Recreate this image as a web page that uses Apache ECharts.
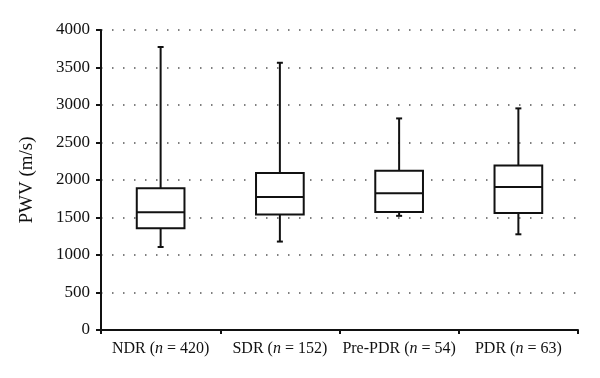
<!DOCTYPE html>
<html><head><meta charset="utf-8">
<script src="https://cdn.jsdelivr.net/npm/echarts@6/dist/echarts.min.js"></script>
<style>html,body{margin:0;padding:0;background:#fff}#c{width:600px;height:378px}</style>
</head><body><div id="c"></div>
<script>
var groups = ['NDR', 'SDR', 'Pre-PDR', 'PDR'];
var counts = [420, 152, 54, 63];
var whiskerLow  = [1107, 1179, 1522, 1276];
var q1          = [1356, 1539, 1574, 1561];
var median      = [1570, 1775, 1824, 1908];
var q3          = [1890, 2095, 2122, 2193];
var whiskerHigh = [3773, 3563, 2821, 2955];
var yTicks = [0, 500, 1000, 1500, 2000, 2500, 3000, 3500, 4000];

var data = groups.map(function (g, i) {
  return [i, whiskerLow[i], q1[i], median[i], q3[i], whiskerHigh[i]];
});
var serif = '"Liberation Serif", "DejaVu Serif", serif';

var chart = echarts.init(document.getElementById('c'), null, {renderer: 'canvas'});
chart.setOption({
  animation: false,
  backgroundColor: '#fff',
  grid: {left: 101, right: 22, top: 30, bottom: 48},
  xAxis: {
    type: 'category',
    data: groups,
    boundaryGap: true,
    axisLine: {lineStyle: {color: '#111', width: 2}},
    axisTick: {show: true, length: 4, interval: 0, lineStyle: {color: '#111', width: 2}},
    axisLabel: {
      interval: 0, margin: 11, color: '#111',
      fontFamily: serif, fontSize: 16,
      formatter: function (v, i) {
        return '{a|' + v + ' (}{i|n}{a| = ' + counts[i] + ')}';
      },
      rich: {
        a: {fontFamily: serif, fontSize: 16, color: '#111'},
        i: {fontFamily: serif, fontSize: 16, fontStyle: 'italic', color: '#111'}
      }
    },
    splitLine: {show: false}
  },
  yAxis: {
    type: 'value',
    min: yTicks[0], max: yTicks[yTicks.length - 1], interval: 500,
    name: 'PWV (m/s)',
    nameLocation: 'middle',
    nameGap: 64,
    nameRotate: 90,
    nameTextStyle: {fontFamily: serif, fontSize: 19, color: '#111'},
    axisLine: {show: true, lineStyle: {color: '#111', width: 2}},
    axisTick: {show: true, length: 5, inside: false, lineStyle: {color: '#111', width: 2}},
    axisLabel: {
      margin: 11, color: '#111', fontFamily: serif, fontSize: 17,
      formatter: function (v) { return String(v); }
    },
    splitLine: {show: true, lineStyle: {color: '#555', width: 1.5, type: [1.5, 9.5], dashOffset: 0}}
  },
  series: [{
    type: 'custom',
    data: data,
    encode: {x: 0, y: [1, 2, 3, 4, 5]},
    renderItem: function (params, api) {
      var c = api.value(0);
      var pLow = api.coord([c, api.value(1)]);
      var pQ1 = api.coord([c, api.value(2)]);
      var pMed = api.coord([c, api.value(3)]);
      var pQ3 = api.coord([c, api.value(4)]);
      var pHigh = api.coord([c, api.value(5)]);
      var bw = api.size([1, 0])[0] * 0.4;
      var x = pMed[0];
      var cap = 3;
      var st = {stroke: '#111', lineWidth: 2, fill: null};
      return {
        type: 'group',
        children: [
          {type: 'line', shape: {x1: x, y1: pQ3[1], x2: x, y2: pHigh[1]}, style: st},
          {type: 'line', shape: {x1: x - cap, y1: pHigh[1], x2: x + cap, y2: pHigh[1]}, style: st},
          {type: 'line', shape: {x1: x, y1: pQ1[1], x2: x, y2: pLow[1]}, style: st},
          {type: 'line', shape: {x1: x - cap, y1: pLow[1], x2: x + cap, y2: pLow[1]}, style: st},
          {type: 'rect', shape: {x: x - bw / 2, y: pQ3[1], width: bw, height: pQ1[1] - pQ3[1]}, style: {stroke: '#111', lineWidth: 2, fill: '#fff'}},
          {type: 'line', shape: {x1: x - bw / 2, y1: pMed[1], x2: x + bw / 2, y2: pMed[1]}, style: st}
        ]
      };
    }
  }]
});
</script></body></html>
